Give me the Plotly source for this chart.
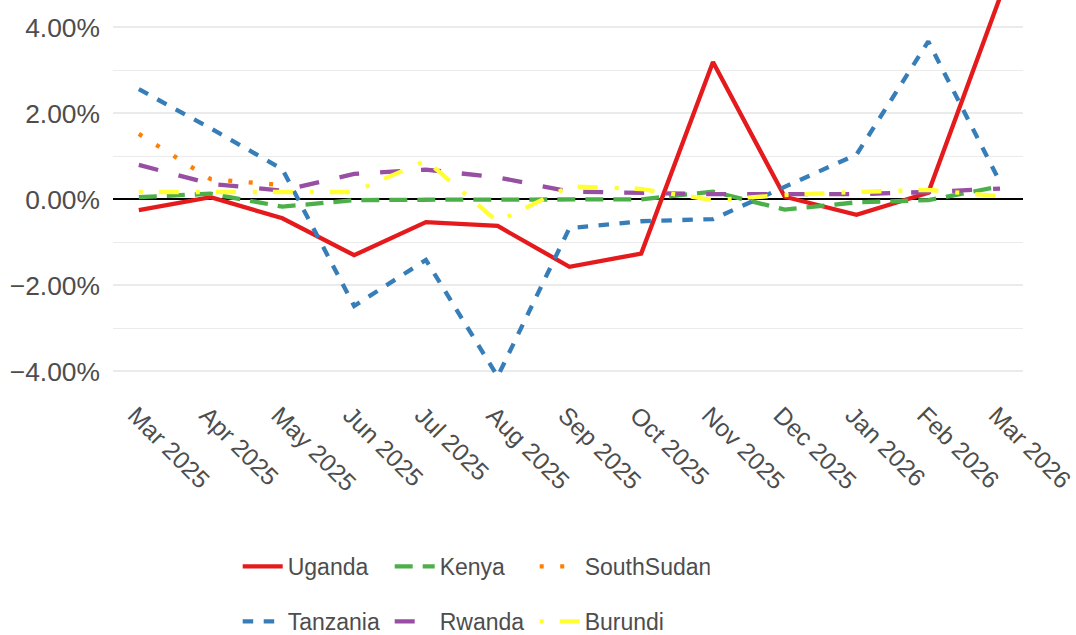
import plotly.graph_objects as go

months = ["Mar 2025", "Apr 2025", "May 2025", "Jun 2025", "Jul 2025", "Aug 2025",
          "Sep 2025", "Oct 2025", "Nov 2025", "Dec 2025", "Jan 2026", "Feb 2026", "Mar 2026"]

uganda = [-0.25, 0.05, -0.44, -1.30, -0.53, -0.62, -1.57, -1.26, 3.19, 0.06, -0.36, 0.15, 4.70]
kenya = [0.05, 0.13, -0.17, -0.02, -0.01, 0.00, -0.01, 0.00, 0.18, -0.24, -0.07, -0.02, 0.30]
south_sudan = [1.52, 0.47, 0.33, None, None, None, None, None, None, None, None, None, None]
tanzania = [2.56, 1.65, 0.70, -2.48, -1.41, -4.12, -0.67, -0.51, -0.46, 0.30, 1.04, 3.67, 0.40]
rwanda = [0.80, 0.36, 0.20, 0.59, 0.69, 0.51, 0.18, 0.14, 0.12, 0.12, 0.12, 0.17, 0.25]
burundi = [0.17, 0.17, 0.17, 0.17, 0.90, -0.52, 0.30, 0.24, -0.02, 0.10, 0.17, 0.22, 0.07]

y_ticks = [-4, -2, 0, 2, 4]
y_tick_labels = ["\u22124.00%", "\u22122.00%", "0.00%", "2.00%", "4.00%"]

FONT = "Liberation Sans, Arial, sans-serif"
GREY = "#4D4D4D"

series = [
    ("Uganda", uganda, "#E41A1C", "solid", "legend", 97),
    ("Kenya", kenya, "#4DAF4A", "18px,10px", "legend", 90),
    ("SouthSudan", south_sudan, "#FF7F00", "4px,16.5px", "legend", 120),
    ("Tanzania", tanzania, "#377EB8", "10.5px,10.5px", "legend2", 97),
    ("Rwanda", rwanda, "#984EA3", "20px,21px", "legend2", 90),
    ("Burundi", burundi, "#FFFF33", "4px,16px,20px,17px", "legend2", 120),
]

fig = go.Figure()
for name, vals, color, dash, leg, lw in series:
    fig.add_trace(go.Scatter(
        x=months, y=vals, name=name, mode="lines",
        line=dict(color=color, width=4.3, dash=dash),
        legend=leg, legendwidth=lw, connectgaps=False,
    ))

fig.update_layout(
    width=1076, height=635,
    margin=dict(l=113, r=53, t=0, b=240),
    paper_bgcolor="white", plot_bgcolor="white",
    font=dict(family=FONT, color=GREY, size=23),
    legend=dict(orientation="h", xref="container", yref="container",
                x=237.7 / 1076, xanchor="left", y=1 - 545 / 635, yanchor="top",
                itemwidth=40, font=dict(size=23, color=GREY, family=FONT),
                bgcolor="rgba(0,0,0,0)"),
    legend2=dict(orientation="h", xref="container", yref="container",
                 x=237.7 / 1076, xanchor="left", y=1 - 600 / 635, yanchor="top",
                 itemwidth=40, font=dict(size=23, color=GREY, family=FONT),
                 bgcolor="rgba(0,0,0,0)"),
    showlegend=True,
)

fig.update_xaxes(
    type="category", categoryorder="array", categoryarray=months,
    range=[-0.36, 12.32], showgrid=False, zeroline=False, showline=False,
    ticks="", tickangle=45, tickfont=dict(size=24.5, color=GREY, family=FONT),
    ticklabelshift=-4, automargin=False,
)
fig.update_yaxes(
    range=[-4.55, 4.634], tickmode="array", tickvals=y_ticks, ticktext=y_tick_labels,
    showgrid=True, gridcolor="#EBEBEB", gridwidth=1.6,
    minor=dict(dtick=1, tick0=0, showgrid=True, gridcolor="#EBEBEB", gridwidth=1),
    zeroline=True, zerolinecolor="black", zerolinewidth=2.2,
    showline=False, ticks="", ticklabelstandoff=12,
    tickfont=dict(size=26.4, color=GREY, family=FONT), automargin=False,
)

fig.write_html("out.html", config={"displayModeBar": False},
               post_script="document.body.style.margin='0px';document.body.style.overflow='hidden';")
